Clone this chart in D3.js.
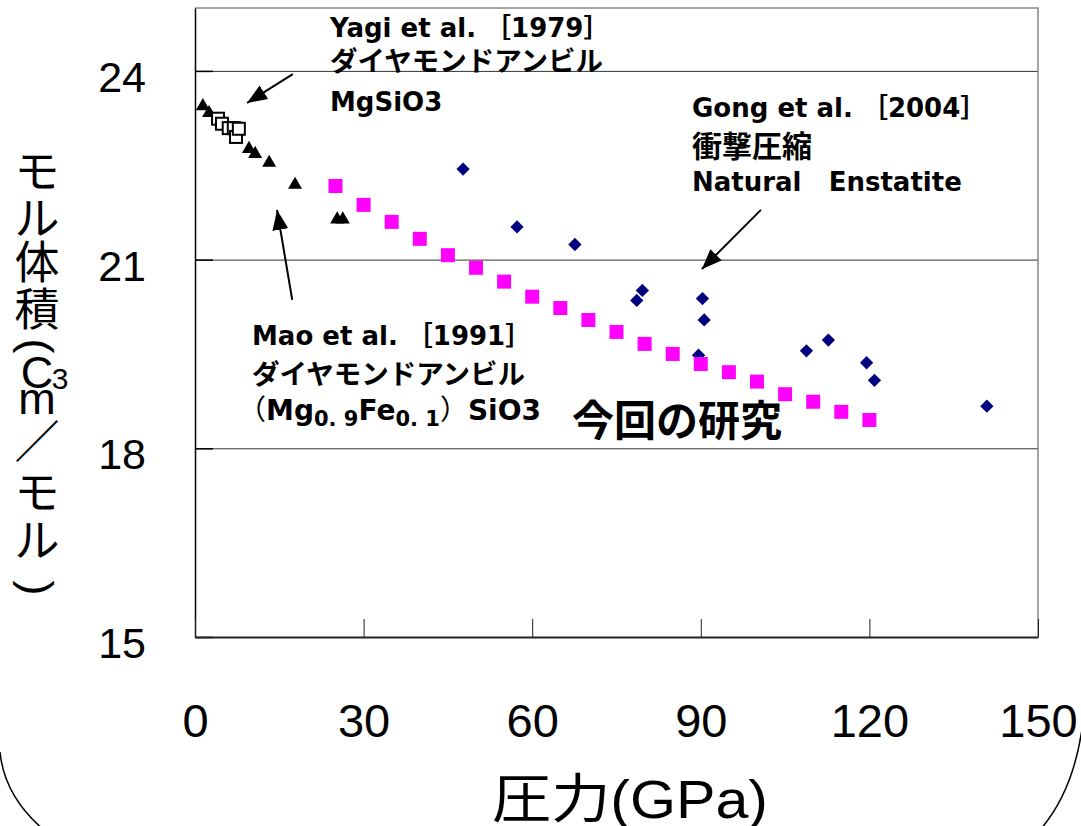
<!DOCTYPE html>
<html>
<head>
<meta charset="utf-8">
<script src="https://cdn.jsdelivr.net/npm/d3@7"></script>
<style>
  body { margin: 0; background: #fff; }
  svg { display: block; }
</style>
</head>
<body>
<svg id="chart" width="1081" height="826"></svg>
<script>
// values (pressure GPa, molar volume cm3/mol)
const yagiP = [4.1, 4.8, 6.0, 6.9, 7.3, 7.8]
const yagiV = [23.24, 23.16, 23.09, 23.09, 22.95, 23.08]

const maoP = [1.4, 2.5, 9.6, 10.7, 13.2, 17.8, 25.3, 26.3]
const maoV = [23.44, 23.33, 22.76, 22.68, 22.54, 22.19, 21.64, 21.64]

const gongP = [47.7, 57.3, 67.6, 79.6, 78.6, 90.3, 90.6, 89.6, 108.8, 112.7, 119.5, 120.9, 140.9]
const gongV = [22.44, 21.52, 21.24, 20.51, 20.35, 20.38, 20.04, 19.48, 19.55, 19.72, 19.36, 19.08, 18.67]

const thisP = [25, 30, 35, 40, 45, 50, 55, 60, 65, 70, 75, 80, 85, 90, 95, 100, 105, 110, 115, 120]
const thisV = [22.17, 21.87, 21.60, 21.33, 21.07, 20.87, 20.65, 20.41, 20.23, 20.04,
               19.85, 19.66, 19.50, 19.34, 19.21, 19.06, 18.86, 18.74, 18.58, 18.45]

const xTicks = [0, 30, 60, 90, 120, 150]
const yTicks = [15, 18, 21, 24]

// vertical y title, one glyph per row; the parens get turned on their side
const yTitle = ['モ', 'ル', '体', '積', '(', 'C', 'm', '／', 'モ', 'ル', ')']

const m = { left: 195, right: 1038, top: 8, bottom: 637 }
const svg = d3.select('#chart')

const x = d3.scaleLinear().domain([0, 150]).range([m.left, m.right])
const y = d3.scaleLinear().domain([15, 25]).range([m.bottom, m.top])

const zip = (a, b) => a.map((d, i) => [d, b[i]])

// slide decoration arcs at the bottom corners
svg.append('path')
    .attr('d', 'M0,752 C3,782 18,808 44,830')
    .attr('fill', 'none').attr('stroke', '#000').attr('stroke-width', 1.5)
svg.append('path')
    .attr('d', 'M1083,722 C1078,762 1066,800 1040,830')
    .attr('fill', 'none').attr('stroke', '#000').attr('stroke-width', 1.5)

// gridlines
svg.append('g')
    .attr('transform', `translate(${m.left},0)`)
    .call(d3.axisLeft(y).tickValues([18, 21, 24]).tickSize(-(m.right - m.left)).tickFormat(''))
    .call(g => g.select('.domain').remove())
    .call(g => g.selectAll('line').attr('stroke', '#333').attr('stroke-width', 1))

// top / right frame
svg.append('path')
    .attr('d', `M${m.left},${m.top}H${m.right}V${m.bottom}`)
    .attr('fill', 'none').attr('stroke', '#888').attr('stroke-width', 1.5)

// y axis
svg.append('g')
    .attr('transform', `translate(${m.left},0)`)
    .call(d3.axisLeft(y).tickValues(yTicks).tickSize(-18).tickSizeOuter(0).tickPadding(49))
    .call(g => g.select('.domain').attr('stroke', '#000').attr('stroke-width', 1.5))
    .call(g => g.selectAll('line').attr('stroke', '#000').attr('stroke-width', 1.5))
    .call(g => g.selectAll('text')
        .attr('dy', '0.48em')
        .style('font-family', '"Liberation Sans", Arial, sans-serif')
        .style('font-size', '43px').attr('fill', '#000'))

// x axis
svg.append('g')
    .attr('transform', `translate(0,${m.bottom})`)
    .call(d3.axisBottom(x).tickValues(xTicks).tickSize(-18).tickSizeOuter(0).tickPadding(67))
    .call(g => g.select('.domain').attr('stroke', '#222').attr('stroke-width', 2))
    .call(g => g.selectAll('line').attr('stroke', '#222').attr('stroke-width', 1))
    .call(g => g.selectAll('text')
        .style('font-family', '"Liberation Sans", Arial, sans-serif')
        .style('font-size', '47px').attr('fill', '#000'))

// axis titles
svg.append('text')
    .attr('x', 630).attr('y', 818)
    .attr('text-anchor', 'middle')
    .attr('textLength', 276)
    .attr('lengthAdjust', 'spacingAndGlyphs')
    .style('font-family', '"Liberation Sans", "Noto Sans CJK JP", sans-serif')
    .style('font-size', '53px')
    .text('圧力(GPa)')

const yTitleY = [172, 219, 263, 310, 346, 372, 398, 443, 493, 541, 588]
const yt = svg.append('g')
    .style('font-family', '"Liberation Sans", "Noto Sans CJK JP", sans-serif')
    .style('font-size', '45px')
yt.selectAll('text')
    .data(yTitle)
    .join('text')
    .attr('transform', (d, i) => `translate(37,${yTitleY[i]})` + (d === '(' || d === ')' ? ' rotate(90)' : ''))
    .attr('text-anchor', 'middle')
    .attr('dominant-baseline', 'central')
    .text(d => d)
yt.append('text')
    .attr('x', 60).attr('y', 378)
    .attr('text-anchor', 'middle')
    .attr('dominant-baseline', 'central')
    .style('font-size', '30px')
    .text('3')

// markers
const sym = (type, size) => d3.symbol().type(type).size(size)

svg.append('g').selectAll('path')
    .data(zip(maoP, maoV))
    .join('path')
    .attr('transform', d => `translate(${x(d[0])},${y(d[1])})`)
    .attr('d', sym(d3.symbolTriangle, 85))
    .attr('fill', '#000')

svg.append('g').selectAll('rect')
    .data(zip(yagiP, yagiV))
    .join('rect')
    .attr('x', d => x(d[0]) - 6).attr('y', d => y(d[1]) - 6)
    .attr('width', 12).attr('height', 12)
    .attr('fill', '#fff').attr('stroke', '#000').attr('stroke-width', 2)

svg.append('g').selectAll('path')
    .data(zip(gongP, gongV))
    .join('path')
    .attr('transform', d => `translate(${x(d[0])},${y(d[1])}) rotate(45)`)
    .attr('d', sym(d3.symbolSquare, 88))
    .attr('fill', '#000080')

svg.append('g').selectAll('path')
    .data(zip(thisP, thisV))
    .join('path')
    .attr('transform', d => `translate(${x(d[0])},${y(d[1])})`)
    .attr('d', sym(d3.symbolSquare, 196))
    .attr('fill', '#ff00ff')

// arrows (tail -> tip, in data units)
svg.append('defs').append('marker')
    .attr('id', 'head')
    .attr('markerUnits', 'userSpaceOnUse')
    .attr('markerWidth', 22).attr('markerHeight', 18)
    .attr('refX', 20).attr('refY', 8)
    .attr('orient', 'auto')
    .append('path')
    .attr('d', 'M0,0L20,8L0,16Z')
    .attr('fill', '#000')

const arrows = [
    [[17.4, 23.95], [9.25, 23.49]],
    [[17.3, 20.36], [14.6, 21.79]],
    [[100.7, 21.79], [90.2, 20.85]]
]
svg.append('g').selectAll('line')
    .data(arrows)
    .join('line')
    .attr('x1', d => x(d[0][0])).attr('y1', d => y(d[0][1]))
    .attr('x2', d => x(d[1][0])).attr('y2', d => y(d[1][1]))
    .attr('stroke', '#000').attr('stroke-width', 2)
    .attr('marker-end', 'url(#head)')

// annotations
const note = svg.append('g')
    .style('font-family', '"DejaVu Sans", "Noto Sans CJK JP", sans-serif')
    .style('font-weight', 'bold')
    .style('font-size', '26px')
    .attr('fill', '#000')

const cjk = '"Noto Sans CJK JP", sans-serif'
const line = (tx, ty, s, fs) => {
    const t = note.append('text').attr('x', tx).attr('y', ty).text(s)
    if (fs) t.style('font-size', fs + 'px')
    return t
}

line(330, 37, 'Yagi et al. ［1979］')
line(330, 71, 'ダイヤモンドアンビル', 27.5).style('font-family', cjk)
line(330, 111, 'MgSiO3')

line(252, 345, 'Mao et al. ［1991］')
line(252, 384, 'ダイヤモンドアンビル', 27.5).style('font-family', cjk)
const mao3 = note.append('text').attr('x', 238).attr('y', 420).style('font-size', '28px')
mao3.append('tspan').style('font-family', cjk).style('font-weight', 'normal').text('（')
mao3.append('tspan').text('Mg')
mao3.append('tspan').attr('dy', 6).style('font-size', '21px').text('0. 9')
mao3.append('tspan').attr('dy', -6).text('Fe')
mao3.append('tspan').attr('dy', 6).style('font-size', '21px').text('0. 1')
mao3.append('tspan').attr('dy', -6).style('font-family', cjk).style('font-weight', 'normal').text('）')
mao3.append('tspan').text('SiO3')

line(692, 117, 'Gong et al. ［2004］')
line(692, 157, '衝撃圧縮', 30).style('font-family', cjk)
line(692, 191, 'Natural   Enstatite').style('white-space', 'pre')

line(572, 436, '今回の研究', 42).style('font-family', cjk)
</script>
</body>
</html>
